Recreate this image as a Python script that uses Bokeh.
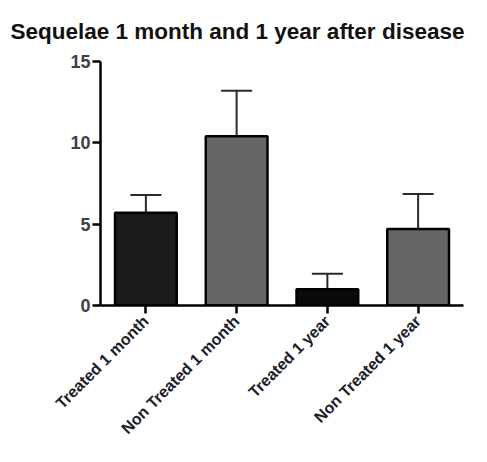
import math
from bokeh.plotting import figure
from bokeh.models import FactorRange, Range1d, Whisker, TeeHead, ColumnDataSource, FixedTicker
from bokeh.embed import file_html
from bokeh.resources import INLINE

categories = ["Treated 1 month", "Non Treated 1 month", "Treated 1 year", "Non Treated 1 year"]
means = [5.7, 10.4, 1.0, 4.7]
errors = [1.1, 2.8, 0.95, 2.15]
colors = ["#1a1a1a", "#666666", "#0a0a0a", "#666666"]
y_ticks = [0, 5, 10, 15]
title_text = "Sequelae 1 month and 1 year after disease"

upper = [m + e for m, e in zip(means, errors)]
src = ColumnDataSource(dict(cat=categories, mean=means, upper=upper, color=colors))

p = figure(width=471, height=446, x_range=FactorRange(factors=categories, range_padding=0),
           y_range=Range1d(0, 15), output_backend="svg", toolbar_location=None,
           min_border_left=100, min_border_right=8, min_border_top=61, min_border_bottom=141)

p.vbar(x="cat", top="mean", width=0.68, source=src, fill_color="color",
       line_color="black", line_width=2.5)

w = Whisker(source=src, base="cat", upper="upper", lower="mean", line_color="#2a2a2a", line_width=2,
            upper_head=TeeHead(size=31, line_color="#2a2a2a", line_width=2), lower_head=None)
p.add_layout(w)

p.title.text = title_text
p.title.text_font = "Liberation Sans"
p.title.text_font_size = "22.5px"
p.title.text_font_style = "bold"
p.title.text_color = "#111111"
p.title.align = "left"
p.title.vertical_align = "top"
p.title.offset = -90
p.title.standoff = 32

p.xgrid.visible = False
p.ygrid.visible = False
p.outline_line_color = None

for ax in (p.xaxis, p.yaxis):
    ax.axis_line_width = 2.5
    ax.axis_line_color = "black"
    ax.major_tick_line_width = 2.5
    ax.major_tick_line_color = "black"
    ax.major_tick_out = 8
    ax.major_tick_in = 0
    ax.minor_tick_line_color = None
    ax.major_label_text_font = "Liberation Sans"
    ax.major_label_text_font_style = "bold"

p.yaxis.ticker = FixedTicker(ticks=y_ticks)
p.yaxis.major_label_text_font_size = "18px"
p.yaxis.major_label_text_color = "#3a3f4a"
p.yaxis.major_label_standoff = 2

p.xaxis.major_label_orientation = math.pi / 4
p.xaxis.major_label_text_font_size = "16px"
p.xaxis.major_label_text_color = "#1a2028"
p.xaxis.major_label_standoff = 5

open("out.html", "w").write(file_html(p, INLINE))
